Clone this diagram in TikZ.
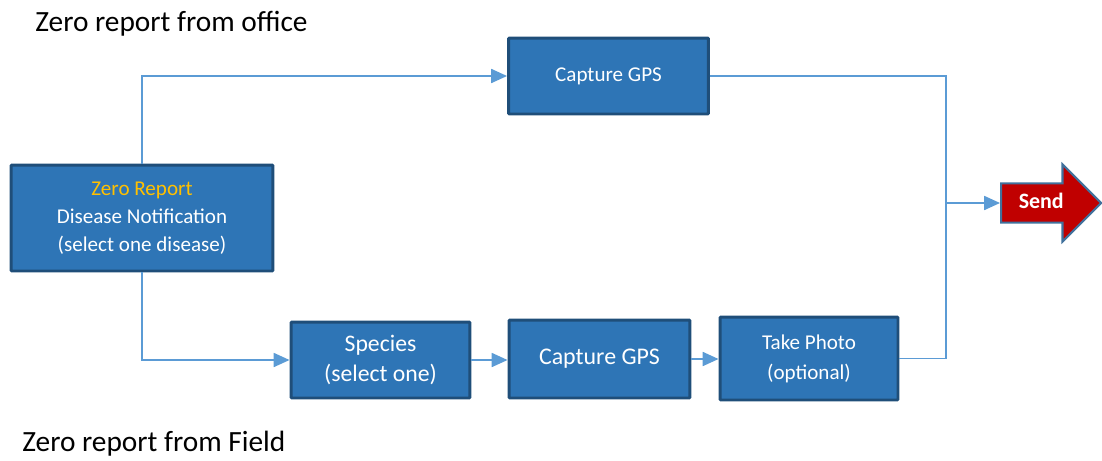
\documentclass[tikz,border=0pt]{standalone}
\usepackage{fontspec}
\setmainfont{Carlito}
\usetikzlibrary{positioning}
\usetikzlibrary{arrows.meta,shapes}
\usetikzlibrary{shapes.arrows}
\definecolor{boxfill}{HTML}{2E75B6}
\definecolor{boxline}{HTML}{1F4E79}
\definecolor{linkblue}{HTML}{5B9BD5}
\definecolor{zeroorange}{HTML}{FFC000}
\definecolor{sendred}{HTML}{C00000}
\definecolor{sendline}{HTML}{41719C}
\tikzstyle{stepbox}=[rectangle,draw=boxline,fill=boxfill,line width=1.7pt,text=white,align=center,inner sep=2pt,rounded corners=0.5pt]
\tikzstyle{link} = [draw,linkblue,line width=0.85pt,-{Triangle[length=9pt,width=8pt]}]
\tikzstyle{plainlink} = [draw,linkblue,line width=0.85pt]
\tikzstyle{title} = [font=\fontsize{16.7}{20}\selectfont,anchor=west,inner sep=0pt]

\begin{document}
\begin{tikzpicture}[x=0.02cm, y=-0.02cm]

  \useasboundingbox (0,0) rectangle (1102,460);

  \node[title] (office) at (35,24) {Zero report from office};
  \node[title] (field) at (22,444) {Zero report from Field};

  \node[stepbox, minimum width=5.24cm, minimum height=2.12cm, font=\fontsize{12}{15.9}\selectfont] (zero) at (142,218)
        {\textcolor{zeroorange}{Zero Report}\\Disease Notification\\(select one disease)};
  \node[stepbox, minimum width=4cm, minimum height=1.52cm, font=\fontsize{12}{15}\selectfont] (gpsa) at (608.5,76) {Capture GPS};

  \foreach \x/\y/\w/\h/\fs/\ls/\name/\label in {380.5/360/3.58/1.52/13.5/17.6/species/{Species\\(select one)},
        599.5/359/3.62/1.56/13.6/17/gpsb/{Capture GPS}, 809/358.5/3.56/1.66/12/17/photo/{Take Photo\\(optional)}}
    \node[stepbox, minimum width=\w cm, minimum height=\h cm, font=\fontsize{\fs}{\ls}\selectfont] (\name) at (\x,\y) {\label};

  \node[single arrow, draw=sendline, fill=sendred, line width=1.2pt, text=white, font=\fontsize{12.5}{14}\selectfont\bfseries,
        minimum height=2.0cm, single arrow head extend=0.38cm, single arrow head indent=0pt,
        inner ysep=6pt, inner xsep=3pt, text height=1.6ex, text depth=0.3ex, anchor=tail] (send) at (1000,203) {Send};

  \draw[link] (zero.north) |- (gpsa.west);
  \draw[link] (zero.south) |- (species.west);
  \foreach \source/\dest in {species/gpsb, gpsb/photo}
    \draw[link] (\source.east) -- (\source.east -| \dest.west);

  \coordinate (join) at (946,203);
  \draw[plainlink] (gpsa.east) -| (join);
  \draw[plainlink] (photo.east) -| (join);
  \draw[link] (join) -- (send.tail);

\end{tikzpicture}
\end{document}
